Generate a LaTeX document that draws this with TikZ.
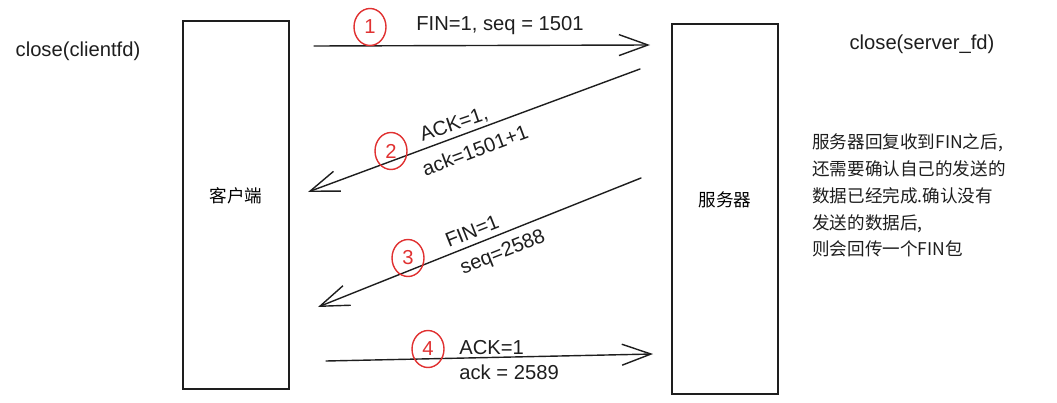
\documentclass[tikz,border=0pt]{standalone}
\usepackage{fontspec}
\setmainfont{Liberation Sans}
\newfontfamily\cjk{Noto Sans CJK SC}
\usepackage{xcolor}
\usepackage{tikz}
\usetikzlibrary{arrows.meta, shapes.geometric, positioning}
\definecolor{numred}{RGB}{224,49,49}
\definecolor{inkblack}{RGB}{30,30,30}
\tikzset{
    boxnode/.style = {draw=inkblack, rectangle, line width=0.8pt, inner sep=0em,
      minimum width=2.12cm, text depth=0.4cm, font=\cjk\fontsize{10}{12}\selectfont},
    textnode/.style = {draw=none, fill=none, rectangle, inner sep=0em,
      text=inkblack, font=\fontsize{11.5}{14}\selectfont},
    notenode/.style = {draw=none, fill=none, rectangle, inner sep=0em, align=left,
      text=inkblack, font=\cjk\fontsize{10}{15.25}\selectfont},
    numnode/.style = {draw=numred, ellipse, line width=0.8pt, inner sep=0em,
      minimum width=0.64cm, minimum height=0.74cm, text=numred,
      font=\fontsize{11.5}{14}\selectfont},
    msg/.style = {draw=inkblack, line width=0.8pt, line cap=round,
      -{Straight Barb[length=0.58cm, width=0.42cm]}}
}
\begin{document}
\begin{tikzpicture}[x=0.02cm, y=-0.02cm]
    \useasboundingbox (0,0) rectangle (1057,402);

    % the two ends
    \node [name=client, boxnode, minimum height=7.36cm] at (236,205) {客户端};
    \node [name=server, boxnode, minimum height=7.4cm] at (725,209) {服务器};

    \node [name=cclose, textnode] at (78,51) {close(clientfd)};
    \node [name=sclose, textnode] at (922,44) {close(server\_fd)};

    \node [name=note, notenode, anchor=west] at (812,195.5)
        {服务器回复收到FIN之后,\\还需要确认自己的发送的\\数据已经完成.确认没有\\发送的数据后,\\则会回传一个FIN包};

    % message ends
    \coordinate (m1s) at (314,46);  \coordinate (m1e) at (650,45);
    \coordinate (m2s) at (640,69);  \coordinate (m2e) at (308,192);
    \coordinate (m3s) at (641,178); \coordinate (m3e) at (318,307);
    \coordinate (m4s) at (326,361); \coordinate (m4e) at (653,354);

    \draw [msg] (m1s) -- (m1e);
    \draw [msg] (m2s) -- (m2e);
    \draw [msg] (m3s) -- (m3e);
    \draw [msg] (m4s) -- (m4e);

    % step numbers
    \node [name=n1, numnode] at (370,27) {1};
    \node [name=n2, numnode] at (391,151) {2};
    \node [name=n3, numnode] at (408,258) {3};
    \node [name=n4, numnode] at (428,349) {4};

    % message labels
    \node [name=l1, textnode] at (500,26) {FIN=1, seq = 1501};
    \node [name=l2a, textnode, rotate=19] at (454,125) {ACK=1,};
    \node [name=l2b, textnode, rotate=20.5] at (475,150) {ack=1501+1};
    \node [name=l3a, textnode, rotate=21.8] at (472,231) {FIN=1};
    \node [name=l3b, textnode, rotate=21.8] at (503,253) {seq=2588};
    \node [name=l4a, textnode, anchor=west] at (459,348) {ACK=1};
    \node [name=l4b, textnode, anchor=west] at (459,372) {ack = 2589};
\end{tikzpicture}
\end{document}
